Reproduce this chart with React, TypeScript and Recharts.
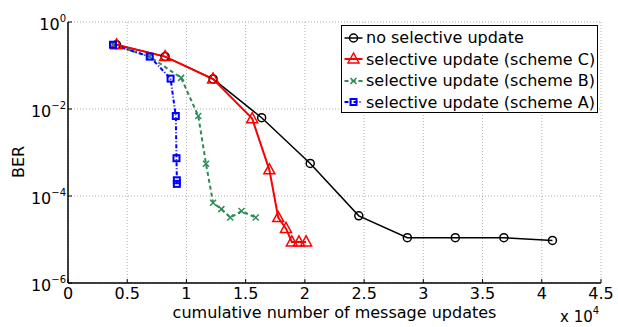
import React from 'react';
import { LineChart, Line, XAxis, YAxis, CartesianGrid, Legend } from 'recharts';

const FONT = '"DejaVu Sans", Arial, sans-serif';

// axes
const xTicks = [0, 0.5, 1, 1.5, 2, 2.5, 3, 3.5, 4, 4.5];
const yTicks = [1e-6, 1e-4, 1e-2, 1];

// no selective update
const noSelX = [0.41, 0.82, 1.225, 1.635, 2.045, 2.455, 2.865, 3.27, 3.68, 4.09];
const noSelBer = [0.3, 0.16, 0.049, 0.0063, 5.6e-4, 3.5e-5, 1.1e-5, 1.1e-5, 1.1e-5, 9.5e-6];

// scheme C
const schemeCX = [0.41, 0.82, 1.225, 1.555, 1.7, 1.775, 1.84, 1.89, 1.95, 2.01];
const schemeCBer = [0.3, 0.16, 0.049, 0.006, 4e-4, 3.2e-5, 1.8e-5, 8.8e-6, 8.8e-6, 8.8e-6];

// scheme B
const schemeBX = [0.38, 0.69, 0.955, 1.1, 1.165, 1.225, 1.295, 1.37, 1.465, 1.585];
const schemeBBer = [0.3, 0.16, 0.052, 0.0069, 5.5e-4, 7e-5, 5e-5, 3.2e-5, 4.5e-5, 3.2e-5];

// scheme A
const schemeAX = [0.38, 0.69, 0.866, 0.91, 0.916, 0.919, 0.919];
const schemeABer = [0.3, 0.16, 0.05, 0.0069, 7.4e-4, 2.3e-4, 1.9e-4];

const toRows = (xs: number[], ys: number[]) => xs.map((x, i) => ({ x, ber: ys[i] }));

type Shape = 'circle' | 'triangle' | 'cross' | 'square';

const series = [
  { name: 'no selective update', rows: toRows(noSelX, noSelBer), color: '#000000', dash: undefined, width: 1.5, shape: 'circle' as Shape },
  { name: 'selective update (scheme C)', rows: toRows(schemeCX, schemeCBer), color: '#ff0000', dash: undefined, width: 2, shape: 'triangle' as Shape },
  { name: 'selective update (scheme B)', rows: toRows(schemeBX, schemeBBer), color: '#2e8b57', dash: '4 3', width: 2, shape: 'cross' as Shape },
  { name: 'selective update (scheme A)', rows: toRows(schemeAX, schemeABer), color: '#0000ff', dash: '4 2 1 2', width: 2, shape: 'square' as Shape },
];

const Marker = ({ shape, cx, cy, color }: { shape: Shape; cx: number; cy: number; color: string }) => {
  if (shape === 'circle') return <circle cx={cx} cy={cy} r={4} fill="none" stroke={color} strokeWidth={1.5} />;
  if (shape === 'triangle')
    return (
      <polygon
        points={`${cx},${cy - 6} ${cx - 5.5},${cy + 4} ${cx + 5.5},${cy + 4}`}
        fill="none"
        stroke={color}
        strokeWidth={1.5}
      />
    );
  if (shape === 'cross')
    return (
      <path d={`M${cx - 3},${cy - 3}L${cx + 3},${cy + 3}M${cx - 3},${cy + 3}L${cx + 3},${cy - 3}`} stroke={color} strokeWidth={1.5} />
    );
  return <rect x={cx - 3} y={cy - 3} width={6} height={6} fill="none" stroke={color} strokeWidth={2} />;
};

const XTick = ({ x, y, payload }: any) => (
  <text x={x} y={y + 16} textAnchor="middle" fontSize={16} fontFamily={FONT} fill="#000">
    {String(payload.value)}
  </text>
);

const YTick = ({ x, y, payload }: any) => {
  const exp = Math.round(Math.log10(payload.value));
  return (
    <text x={x - 2} y={y + 8} textAnchor="end" fontSize={16} fontFamily={FONT} fill="#000">
      <tspan>10</tspan>
      <tspan fontSize={10} dy={-8}>{exp < 0 ? '\u2212' + Math.abs(exp) : String(exp)}</tspan>
    </text>
  );
};

const XLabel = ({ viewBox }: any) => (
  <g>
    <text
      x={viewBox.x + viewBox.width / 2}
      y={viewBox.y + 35}
      textAnchor="middle"
      fontSize={16}
      fontFamily={FONT}
      fill="#000"
    >
      cumulative number of message updates
    </text>
    <text x={viewBox.x + viewBox.width - 41} y={viewBox.y + 39} fontSize={15} fontFamily={FONT} fill="#000">
      <tspan>x 10</tspan>
      <tspan fontSize={10} dy={-8}>4</tspan>
    </text>
  </g>
);

const LegendBox = () => (
  <div
    style={{
      border: '1.5px solid #000',
      background: '#fff',
      width: 257,
      height: 88,
      boxSizing: 'border-box',
      paddingTop: 1,
      fontFamily: FONT,
      fontSize: 16,
      color: '#000',
    }}
  >
    {series.map((s) => (
      <div key={s.name} style={{ display: 'flex', alignItems: 'center', height: 21.5, whiteSpace: 'nowrap' }}>
        <svg width={24} height={20} style={{ flex: 'none' }}>
          <line x1={2.5} x2={20.5} y1={10} y2={10} stroke={s.color} strokeWidth={s.width} strokeDasharray={s.dash} />
          <Marker shape={s.shape} cx={11.5} cy={10} color={s.color} />
        </svg>
        <span>{s.name}</span>
      </div>
    ))}
  </div>
);

export default function App() {
  return (
    <div style={{ position: 'absolute', left: 0, top: 0, width: 618, height: 327, background: '#fff' }}>
      <LineChart width={618} height={327} margin={{ top: 22, right: 17, bottom: 0, left: 0 }}>
        <CartesianGrid stroke="#b0b0b0" strokeDasharray="1 2" />
        <XAxis
          dataKey="x"
          type="number"
          domain={[0, 4.5]}
          ticks={xTicks}
          allowDataOverflow
          height={44}
          tickSize={-4}
          tickMargin={4}
          axisLine={{ stroke: '#000', strokeWidth: 1.5 }}
          tickLine={{ stroke: '#000' }}
          tick={<XTick />}
          label={(p: any) => <XLabel viewBox={p.viewBox} />}
        />
        <XAxis
          xAxisId="t"
          orientation="top"
          type="number"
          domain={[0, 4.5]}
          ticks={xTicks}
          allowDataOverflow
          height={0}
          tickSize={-4}
          tick={false}
          axisLine={{ stroke: '#000', strokeWidth: 1.5 }}
          tickLine={{ stroke: '#000' }}
        />
        <YAxis
          type="number"
          scale="log"
          domain={[1e-6, 1]}
          ticks={yTicks}
          allowDataOverflow
          width={68}
          tickSize={-4}
          tickMargin={4}
          axisLine={{ stroke: '#000', strokeWidth: 1.5 }}
          tickLine={{ stroke: '#000' }}
          tick={<YTick />}
          label={() => (
            <text transform="translate(24,162) rotate(-90)" textAnchor="middle" fontSize={16} fontFamily={FONT} fill="#000">
              BER
            </text>
          )}
        />
        <YAxis
          yAxisId="r"
          orientation="right"
          type="number"
          scale="log"
          domain={[1e-6, 1]}
          ticks={yTicks}
          allowDataOverflow
          width={0}
          tickSize={-4}
          tick={false}
          axisLine={{ stroke: '#000', strokeWidth: 1.5 }}
          tickLine={{ stroke: '#000' }}
        />
        {series.map((s) => (
          <Line
            key={s.name}
            data={s.rows}
            dataKey="ber"
            name={s.name}
            type="linear"
            stroke={s.color}
            strokeWidth={s.width}
            strokeDasharray={s.dash}
            isAnimationActive={false}
            activeDot={false}
            dot={(p: any) => <Marker key={`${s.name}-${p.index}`} shape={s.shape} cx={p.cx} cy={p.cy} color={s.color} />}
          />
        ))}
        <Legend
          layout="vertical"
          align="center"
          verticalAlign="middle"
          content={<LegendBox />}
          wrapperStyle={{ left: 341, top: 25, width: 257, height: 88 }}
        />
      </LineChart>
    </div>
  );
}
